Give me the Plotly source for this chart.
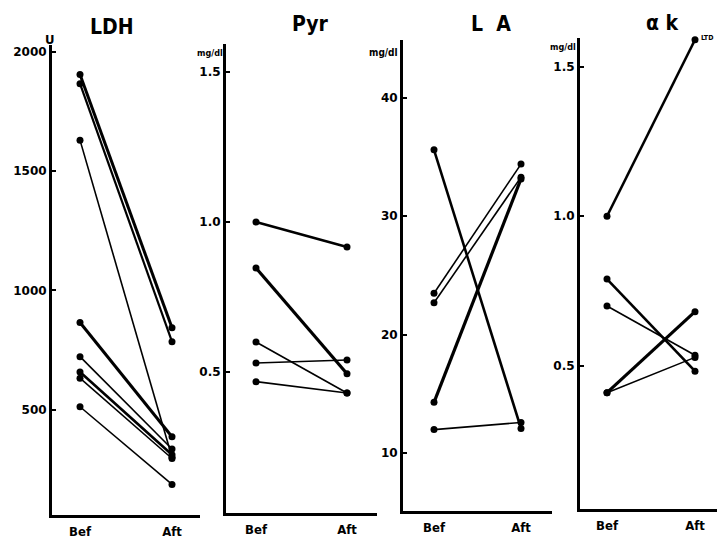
import plotly.graph_objects as go

W, H = 717, 541

# ---- data ----
time_labels = ["Bef", "Aft"]

ldh_bef = [1905, 1867, 1630, 865, 722, 658, 632, 512]
ldh_aft = [843, 785, 300, 386, 335, 311, 295, 186]
ldh_ticks = [500, 1000, 1500, 2000]
ldh_ticktext = ["500", "1000", "1500", "2000"]

pyr_bef = [1.0, 0.847, 0.60, 0.53, 0.468]
pyr_aft = [0.917, 0.494, 0.43, 0.54, 0.43]
pyr_ticks = [0.5, 1.0, 1.5]
pyr_ticktext = ["0.5", "1.0", "1.5"]

la_bef = [35.6, 23.5, 22.7, 14.3, 12.0]
la_aft = [12.1, 34.4, 33.3, 33.15, 12.6]
la_ticks = [10, 20, 30, 40]
la_ticktext = ["10", "20", "30", "40"]

ak_bef = [1.0, 0.79, 0.70, 0.41, 0.41]
ak_aft = [1.59, 0.482, 0.535, 0.681, 0.528]
ak_ticks = [0.5, 1.0, 1.5]
ak_ticktext = ["0.5", "1.0", "1.5"]

# ---- styling ----
ldh_w = [3, 2.2, 1.6, 3, 1.6, 2.6, 1.6, 1.6]
pyr_w = [2.6, 3.2, 1.6, 1.6, 1.6]
la_w = [2.6, 1.6, 1.6, 3.2, 1.6]
ak_w = [2.6, 2.6, 1.6, 3.2, 1.6]

# panel geometry in pixels: left axis x, right end x, bef x, aft x, bottom y, top y, yrange
panels = [
    dict(left=52, right=200, bef=80, aft=172, bottom=515, top=45, yr=[58, 2029],
         bv=ldh_bef, av=ldh_aft, lw=ldh_w, tv=ldh_ticks, tt=ldh_ticktext),
    dict(left=226, right=377, bef=256, aft=347, bottom=513, top=43.6, yr=[0.03, 1.595],
         bv=pyr_bef, av=pyr_aft, lw=pyr_w, tv=pyr_ticks, tt=pyr_ticktext),
    dict(left=403, right=552, bef=434, aft=521, bottom=511, top=40, yr=[5.13, 44.87],
         bv=la_bef, av=la_aft, lw=la_w, tv=la_ticks, tt=la_ticktext),
    dict(left=580, right=717, bef=607, aft=695, bottom=509, top=38, yr=[0.021, 1.596],
         bv=ak_bef, av=ak_aft, lw=ak_w, tv=ak_ticks, tt=ak_ticktext),
]

fig = go.Figure()
tickfont = dict(family="DejaVu Sans, Arial, sans-serif", size=12, color="black", weight="bold")
catfont = dict(family="Liberation Sans Narrow, DejaVu Sans Condensed, Liberation Sans, Arial, sans-serif",
               size=13, color="black", weight="bold")

for i, p in enumerate(panels):
    n = "" if i == 0 else str(i + 1)
    unit = p["aft"] - p["bef"]
    xr = [-(p["bef"] - p["left"]) / unit, 1 + (p["right"] - p["aft"]) / unit]
    for b, a, w in zip(p["bv"], p["av"], p["lw"]):
        fig.add_trace(go.Scatter(
            x=[0, 1], y=[b, a], mode="lines+markers",
            line=dict(color="black", width=w),
            marker=dict(color="black", size=7),
            xaxis="x" + n, yaxis="y" + n, showlegend=False, cliponaxis=False,
        ))
    fig.layout["xaxis" + n] = dict(
        domain=[p["left"] / W, p["right"] / W], range=xr, anchor="y" + n,
        showgrid=False, zeroline=False, showline=True, linecolor="black", linewidth=3,
        tickvals=[0, 1], ticktext=time_labels, ticks="", tickfont=catfont,
        ticklabelstandoff=2,
    )
    fig.layout["yaxis" + n] = dict(
        domain=[1 - p["bottom"] / H, 1 - p["top"] / H], range=p["yr"], anchor="x" + n,
        showgrid=False, zeroline=False, showline=True, linecolor="black", linewidth=3,
        tickvals=p["tv"], ticktext=p["tt"], ticks="inside", ticklen=4, tickwidth=2,
        tickcolor="black", tickfont=tickfont, ticklabelstandoff=0,
    )

titlefont = dict(family="Liberation Sans Narrow, DejaVu Sans Condensed, Liberation Sans, Arial, sans-serif",
                 size=21, color="black", weight="bold")
titles = [("LDH", 112, 27), ("Pyr", 310, 24), ("L  A", 491, 24), ("α k", 662, 23)]
annotations = []
for t, x, y in titles:
    annotations.append(dict(text=t, x=x / W, y=1 - y / H, xref="paper", yref="paper",
                            showarrow=False, font=titlefont, xanchor="center", yanchor="middle"))
unitfont = dict(family="DejaVu Sans Condensed, DejaVu Sans, sans-serif", size=9, color="black", weight="bold")
units = [("U", 50, 39, 13), ("mg/dl", 210, 53, 9), ("mg/dl", 383, 52, 10), ("mg/dl", 563, 47, 9)]
for t, x, y, s in units:
    annotations.append(dict(text=t, x=x / W, y=1 - y / H, xref="paper", yref="paper",
                            showarrow=False, font=dict(unitfont, size=s), xanchor="center", yanchor="middle"))
annotations.append(dict(text="LTD", x=699 / W, y=1 - 38 / H, xref="paper", yref="paper",
                        showarrow=False, font=dict(unitfont, size=7), xanchor="left", yanchor="middle"))

fig.update_layout(
    width=W, height=H, margin=dict(l=0, r=0, t=0, b=0),
    paper_bgcolor="white", plot_bgcolor="white",
    annotations=annotations, showlegend=False,
)

fig.write_html("out.html",
               config={"displayModeBar": False},
               post_script="document.body.style.margin='0';document.body.style.overflow='hidden';")
